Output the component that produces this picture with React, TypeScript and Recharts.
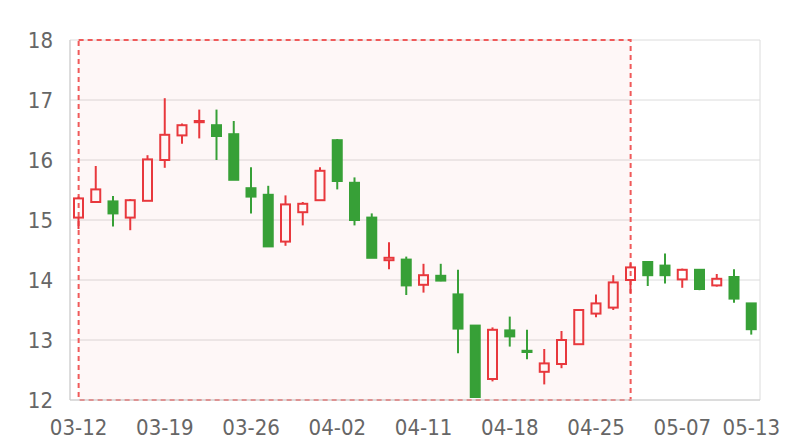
import React from 'react';
import { ComposedChart, Bar, XAxis, YAxis, CartesianGrid, ReferenceArea } from 'recharts';

const dates = [
  '03-12', '03-13', '03-14', '03-15', '03-18', '03-19', '03-20', '03-21', '03-22', '03-25',
  '03-26', '03-27', '03-28', '03-29', '04-01', '04-02', '04-03', '04-04', '04-08', '04-10',
  '04-11', '04-12', '04-15', '04-16', '04-17', '04-18', '04-19', '04-22', '04-23', '04-24',
  '04-25', '04-26', '04-29', '04-30', '05-06', '05-07', '05-08', '05-09', '05-10', '05-13',
];

const opens = [
  15.04, 15.3, 15.31, 15.04, 15.32, 16.0, 16.41, 16.63, 16.58, 16.43,
  15.53, 15.42, 14.64, 15.13, 15.33, 16.33, 15.62, 15.04, 14.33, 14.34,
  13.92, 14.07, 13.76, 13.24, 12.35, 13.16, 12.82, 12.47, 12.6, 12.93,
  13.44, 13.54, 14.0, 14.3, 14.24, 14.01, 14.17, 13.91, 14.05, 13.61,
];
const closes = [
  15.36, 15.51, 15.11, 15.33, 16.01, 16.42, 16.58, 16.65, 16.4, 15.67,
  15.39, 14.56, 15.26, 15.27, 15.82, 15.65, 15.0, 14.37, 14.37, 13.91,
  14.08, 13.99, 13.19, 12.05, 13.17, 13.06, 12.8, 12.61, 13.0, 13.5,
  13.61, 13.96, 14.21, 14.08, 14.08, 14.17, 13.85, 14.02, 13.69, 13.18,
];
const highs = [
  15.39, 15.9, 15.4, 15.35, 16.08, 17.03, 16.61, 16.84, 16.84, 16.65,
  15.88, 15.57, 15.41, 15.3, 15.88, 16.35, 15.71, 15.11, 14.63, 14.39,
  14.27, 14.27, 14.17, 13.24, 13.21, 13.39, 13.17, 12.85, 13.15, 13.51,
  13.76, 14.08, 14.28, 14.31, 14.44, 14.19, 14.18, 14.1, 14.18, 13.61,
];
const lows = [
  14.85, 15.3, 14.89, 14.83, 15.32, 15.87, 16.27, 16.36, 16.0, 15.67,
  15.11, 14.56, 14.57, 14.91, 15.33, 15.51, 14.91, 14.37, 14.18, 13.75,
  13.79, 13.98, 12.78, 12.05, 12.31, 12.89, 12.68, 12.26, 12.53, 12.93,
  13.38, 13.5, 13.78, 13.9, 13.94, 13.87, 13.83, 13.89, 13.62, 13.09,
];

const tickIndex = [0, 5, 10, 15, 20, 25, 30, 35, 39];
const yTicks = [12, 13, 14, 15, 16, 17, 18];
// highlighted window: first candle to 04-29
const areaStart = 0;
const areaEnd = 32;

const RED = '#e8383d';
const GREEN = '#37a037';
const FONT = "'DejaVu Sans Condensed', 'DejaVu Sans', sans-serif";

const data = dates.map((d, i) => ({
  idx: i,
  date: d,
  open: opens[i],
  close: closes[i],
  high: highs[i],
  low: lows[i],
}));

const Candle = (props: any) => {
  let { x, y, width, height } = props;
  const { open, close, high, low } = props.payload;
  if (height < 0) {
    y += height;
    height = -height;
  }
  const up = close >= open;
  const color = up ? RED : GREEN;
  const span = high - low;
  const toY = (v: number) => (span === 0 ? y : y + ((high - v) / span) * height);
  const cx = x + width / 2;
  const top = toY(Math.max(open, close));
  const bh = Math.max(toY(Math.min(open, close)) - top, 1);
  return (
    <g>
      <line x1={cx} x2={cx} y1={y} y2={top} stroke={color} strokeWidth={2} />
      <line x1={cx} x2={cx} y1={top + bh} y2={y + height} stroke={color} strokeWidth={2} />
      <rect
        x={x + 1}
        y={top}
        width={width - 2}
        height={bh}
        fill={up ? 'none' : color}
        stroke={color}
        strokeWidth={2}
      />
    </g>
  );
};

export default function App() {
  return (
    <ComposedChart
      width={784}
      height={432}
      data={data}
      margin={{ top: 32, right: 32, bottom: 10, left: 12 }}
    >
      <CartesianGrid stroke="#dcdcdc" verticalPoints={[62, 752]} />
      <ReferenceArea
        x1={areaStart}
        x2={areaEnd}
        y1={12}
        y2={18}
        fill="#f05a5a"
        fillOpacity={0.05}
        stroke="#f05a5a"
        strokeWidth={2}
        strokeDasharray="5 4"
      />
      <XAxis
        type="number"
        dataKey="idx"
        domain={[-0.5, 39.5]}
        ticks={tickIndex}
        interval={0}
        tickFormatter={(i: number) => dates[i]}
        tickLine={false}
        tickMargin={13}
        height={30}
        axisLine={{ stroke: '#cccccc' }}
        tick={{ fill: '#666666', fontSize: 22, fontFamily: FONT }}
      />
      <YAxis
        domain={[12, 18]}
        ticks={yTicks}
        interval={0}
        tickLine={false}
        tickMargin={11}
        width={50}
        axisLine={{ stroke: '#cccccc' }}
        tick={{ fill: '#666666', fontSize: 22, fontFamily: FONT }}
      />
      <Bar
        dataKey={(d: any) => [d.low, d.high]}
        barSize={11}
        shape={Candle}
        isAnimationActive={false}
      />
    </ComposedChart>
  );
}
